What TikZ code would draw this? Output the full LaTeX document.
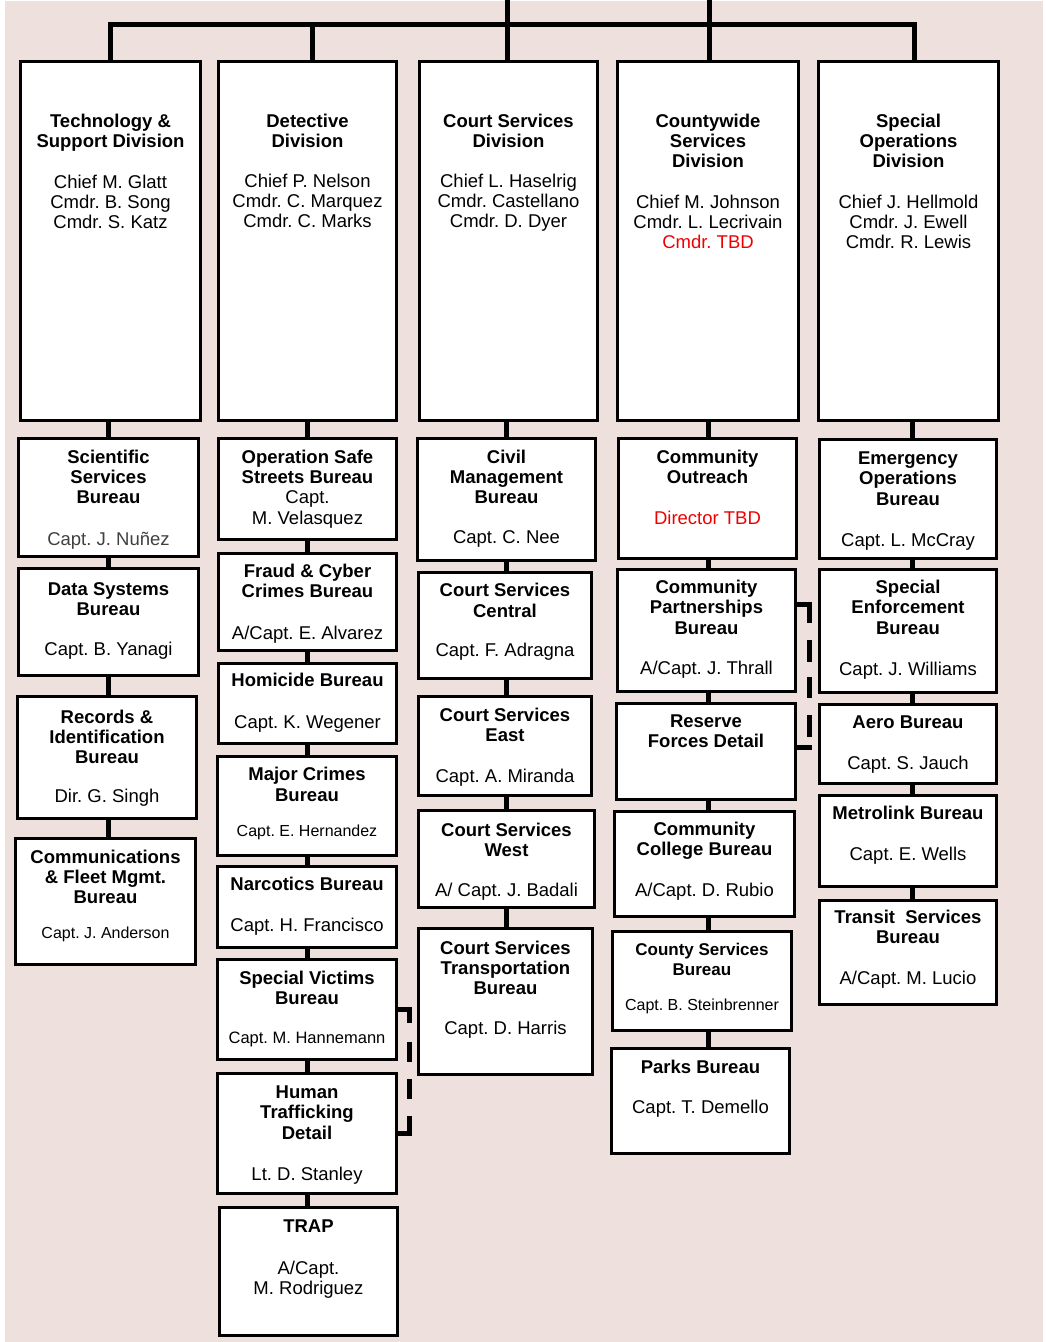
\documentclass[tikz,border=0pt]{standalone}
\usepackage{fontspec}
\setmainfont{Liberation Sans}
\frenchspacing
\definecolor{bgpink}{RGB}{237,224,221}
\definecolor{tbdred}{RGB}{238,0,0}
\definecolor{softgray}{RGB}{64,64,64}
\newcommand{\ttl}[1]{\textbf{#1}}
\newcommand{\smt}[1]{{\fontsize{16}{18}\selectfont #1}}
\newcommand{\orgbox}[7]{%
  \node[orgbox, minimum width={(#4-#2-3)*1pt}, minimum height={(#5-#3-3)*1pt}] (#1) at ({(#2+#4)/2},{(#3+#5)/2}) {};
  \node[boxtext] (#1-t) at ([yshift={-(#6-14)*1pt}]#1.north) {\rule{0pt}{14pt}#7};}
\newcommand{\vconn}[3]{\draw[conn] (#1.south -| #3) -- (#2.north -| #3);}
\begin{document}
\begin{tikzpicture}[x=1pt,y=-1pt,
  orgbox/.style={draw=black, fill=white, line width=3.2pt, rectangle, inner sep=0pt},
  boxtext/.style={anchor=north, inner sep=0pt, align=center, font=\fontsize{18.5}{20.2}\selectfont},
  conn/.style={draw=black, line width=5pt},
  dashconn/.style={draw=black, line width=5pt, line join=miter}]
\useasboundingbox (0,0) rectangle (1046,1342);
\fill[white] (0,0) rectangle (1046,1342);
\fill[bgpink] (5,1) rectangle (1043,1342);

% top row
\orgbox{tech}{19}{60}{202}{422}{67.5}{\ttl{Technology \&}\\\ttl{Support Division}\\[20pt]Chief M. Glatt\\Cmdr. B. Song\\Cmdr. S. Katz}
\orgbox{det}{217}{60}{398}{422}{67}{\ttl{Detective}\\\ttl{Division}\\[20pt]Chief P. Nelson\\Cmdr. C. Marquez\\Cmdr. C. Marks}
\orgbox{csd}{418}{60}{599}{422}{67}{\ttl{Court Services}\\\ttl{Division}\\[20pt]Chief L. Haselrig\\Cmdr. Castellano\\Cmdr. D. Dyer}
\orgbox{cws}{616}{60}{800}{422}{67}{\ttl{Countywide}\\\ttl{Services}\\\ttl{Division}\\[20.5pt]Chief M. Johnson\\Cmdr. L. Lecrivain\\\textcolor{tbdred}{Cmdr. TBD}}
\orgbox{spo}{817}{60}{1000}{422}{67}{\ttl{Special}\\\ttl{Operations}\\\ttl{Division}\\[20.5pt]Chief J. Hellmold\\Cmdr. J. Ewell\\Cmdr. R. Lewis}

% column 1
\orgbox{ssb}{17}{437}{200}{558}{26.3}{\ttl{Scientific}\\\ttl{Services}\\\ttl{Bureau}\\[21pt]\textcolor{softgray}{Capt. J. Nuñez}}
\orgbox{dsb}{17}{567}{200}{677}{28}{\ttl{Data Systems}\\\ttl{Bureau}\\[19.6pt]Capt. B. Yanagi}
\orgbox{rib}{16}{695}{198}{820}{28.3}{\ttl{Records \&}\\\ttl{Identification}\\\ttl{Bureau}\\[18pt]Dir. G. Singh}
\orgbox{cfm}{14}{837}{197}{966}{26.3}{\ttl{Communications}\\\ttl{\& Fleet Mgmt.}\\\ttl{Bureau}\\[14.4pt]\smt{Capt. J. Anderson}}

% column 2
\orgbox{oss}{217}{437}{398}{541}{26.3}{\ttl{Operation Safe}\\\ttl{Streets Bureau}\\Capt.\\M. Velasquez}
\orgbox{fcc}{217}{552}{398}{652}{25.3}{\ttl{Fraud \& Cyber}\\\ttl{Crimes Bureau}\\[21.4pt]A/Capt. E. Alvarez}
\orgbox{hom}{217}{662}{398}{745}{24.7}{\ttl{Homicide Bureau}\\[21pt]Capt. K. Wegener}
\orgbox{mcb}{216}{755}{398}{857}{25.7}{\ttl{Major Crimes}\\\ttl{Bureau}\\[15.6pt]\smt{Capt. E. Hernandez}}
\orgbox{nar}{216}{865}{398}{949}{25.7}{\ttl{Narcotics Bureau}\\[20pt]Capt. H. Francisco}
\orgbox{svb}{216}{958}{398}{1061}{26}{\ttl{Special Victims}\\\ttl{Bureau}\\[19pt]{\fontsize{16.5}{18}\selectfont Capt. M. Hannemann}}
\orgbox{htd}{216}{1072}{398}{1195}{26.6}{\ttl{Human}\\\ttl{Trafficking}\\\ttl{Detail}\\[20.8pt]Lt. D. Stanley}
\orgbox{trap}{218}{1206}{399}{1337}{26.7}{\ttl{TRAP}\\[21pt]A/Capt.\\M. Rodriguez}

% column 3
\orgbox{cmb}{416}{437}{597}{562}{26.3}{\ttl{Civil}\\\ttl{Management}\\\ttl{Bureau}\\[19pt]Capt. C. Nee}
\orgbox{csc}{417}{571}{593}{680}{25.7}{\ttl{Court Services}\\\ttl{Central}\\[19pt]Capt. F. Adragna}
\orgbox{cse}{417}{695}{593}{797}{26}{\ttl{Court Services}\\\ttl{East}\\[21pt]Capt. A. Miranda}
\orgbox{csw}{417}{809}{596}{909}{27}{\ttl{Court Services}\\\ttl{West}\\[20pt]A/ Capt. J. Badali}
\orgbox{cst}{417}{927}{594}{1076}{27}{\ttl{Court Services}\\\ttl{Transportation}\\\ttl{Bureau}\\[20pt]Capt. D. Harris}

% column 4
\orgbox{cob}{617}{437}{798}{560}{26.6}{\ttl{Community}\\\ttl{Outreach}\\[20.8pt]\textcolor{tbdred}{Director TBD}}
\orgbox{cpb}{616}{568}{797}{693}{25.6}{\ttl{Community}\\\ttl{Partnerships}\\\ttl{Bureau}\\[19.8pt]A/Capt. J. Thrall}
\orgbox{rfd}{615}{702}{797}{801}{25.6}{\ttl{Reserve}\\\ttl{Forces Detail}}
\orgbox{ccb}{613}{810}{796}{918}{25.6}{\ttl{Community}\\\ttl{College Bureau}\\[20.8pt]A/Capt. D. Rubio}
\orgbox{csb}{611}{930}{793}{1032}{25}{{\fontsize{17}{18}\selectfont\ttl{County Services}}\\{\fontsize{17}{18}\selectfont\ttl{Bureau}}\\[14.8pt]\smt{Capt. B. Steinbrenner}}
\orgbox{pkb}{610}{1047}{791}{1155}{26.6}{\ttl{Parks Bureau}\\[20pt]Capt. T. Demello}

% column 5
\orgbox{eob}{818}{438}{998}{560}{26.6}{\ttl{Emergency}\\\ttl{Operations}\\\ttl{Bureau}\\[20.8pt]Capt. L. McCray}
\orgbox{seb}{818}{568}{998}{694}{25.6}{\ttl{Special}\\\ttl{Enforcement}\\\ttl{Bureau}\\[20.8pt]Capt. J. Williams}
\orgbox{aer}{818}{703}{998}{785}{25.6}{\ttl{Aero Bureau}\\[20.8pt]Capt. S. Jauch}
\orgbox{mlb}{818}{794}{998}{888}{25.6}{\ttl{Metrolink Bureau}\\[20.8pt]Capt. E. Wells}
\orgbox{tsb}{818}{899}{998}{1006}{24.6}{\ttl{Transit\ \ Services}\\\ttl{Bureau}\\[20pt]A/Capt. M. Lucio}

% top bus
\coordinate (bus) at (0,24.5);
\coordinate (topedge) at (0,0);
\draw[conn] ([xshift=0.3pt]tech.north) -- ([xshift=0.3pt]tech.north |- bus) -| ([xshift=5.5pt]spo.north);
\draw[conn] ([xshift=4.5pt]det.north) -- ([xshift=4.5pt]det.north |- bus);
\draw[conn] ([xshift=-1.5pt]csd.north) -- ([xshift=-1.5pt]csd.north |- topedge);
\draw[conn] ([xshift=1pt]cws.north) -- ([xshift=1pt]cws.north |- topedge);

% column connectors
\coordinate (c1x) at (108,0);
\coordinate (c2x) at (307,0);
\coordinate (c3x) at (506,0);
\coordinate (c4x) at (708,0);
\coordinate (c5x) at (912,0);
\vconn{tech}{ssb}{c1x}
\vconn{ssb}{dsb}{c1x}
\vconn{dsb}{rib}{c1x}
\vconn{rib}{cfm}{c1x}
\vconn{det}{oss}{c2x}
\vconn{oss}{fcc}{c2x}
\vconn{fcc}{hom}{c2x}
\vconn{hom}{mcb}{c2x}
\vconn{mcb}{nar}{c2x}
\vconn{nar}{svb}{c2x}
\vconn{svb}{htd}{c2x}
\vconn{htd}{trap}{c2x}
\vconn{csd}{cmb}{c3x}
\vconn{cmb}{csc}{c3x}
\vconn{csc}{cse}{c3x}
\vconn{cse}{csw}{c3x}
\vconn{csw}{cst}{c3x}
\vconn{cws}{cob}{c4x}
\vconn{cob}{cpb}{c4x}
\vconn{cpb}{rfd}{c4x}
\vconn{rfd}{ccb}{c4x}
\vconn{ccb}{csb}{c4x}
\vconn{csb}{pkb}{c4x}
\vconn{spo}{eob}{c5x}
\vconn{eob}{seb}{c5x}
\vconn{seb}{aer}{c5x}
\vconn{aer}{mlb}{c5x}
\vconn{mlb}{tsb}{c5x}

% dashed brackets
\draw[dashconn, dash pattern=on 24pt off 19pt on 20pt off 17pt on 20pt off 17pt on 40pt]
  (svb.east) -- ++(11,0) |- (htd.east);
\draw[dashconn, dash pattern=on 31pt off 17pt on 22pt off 15pt on 21pt off 17pt on 22pt off 8pt on 40pt]
  ([yshift=26.5pt]cpb.east) -- ++(12,0) |- ([yshift=4pt]rfd.east);
\end{tikzpicture}
\end{document}
